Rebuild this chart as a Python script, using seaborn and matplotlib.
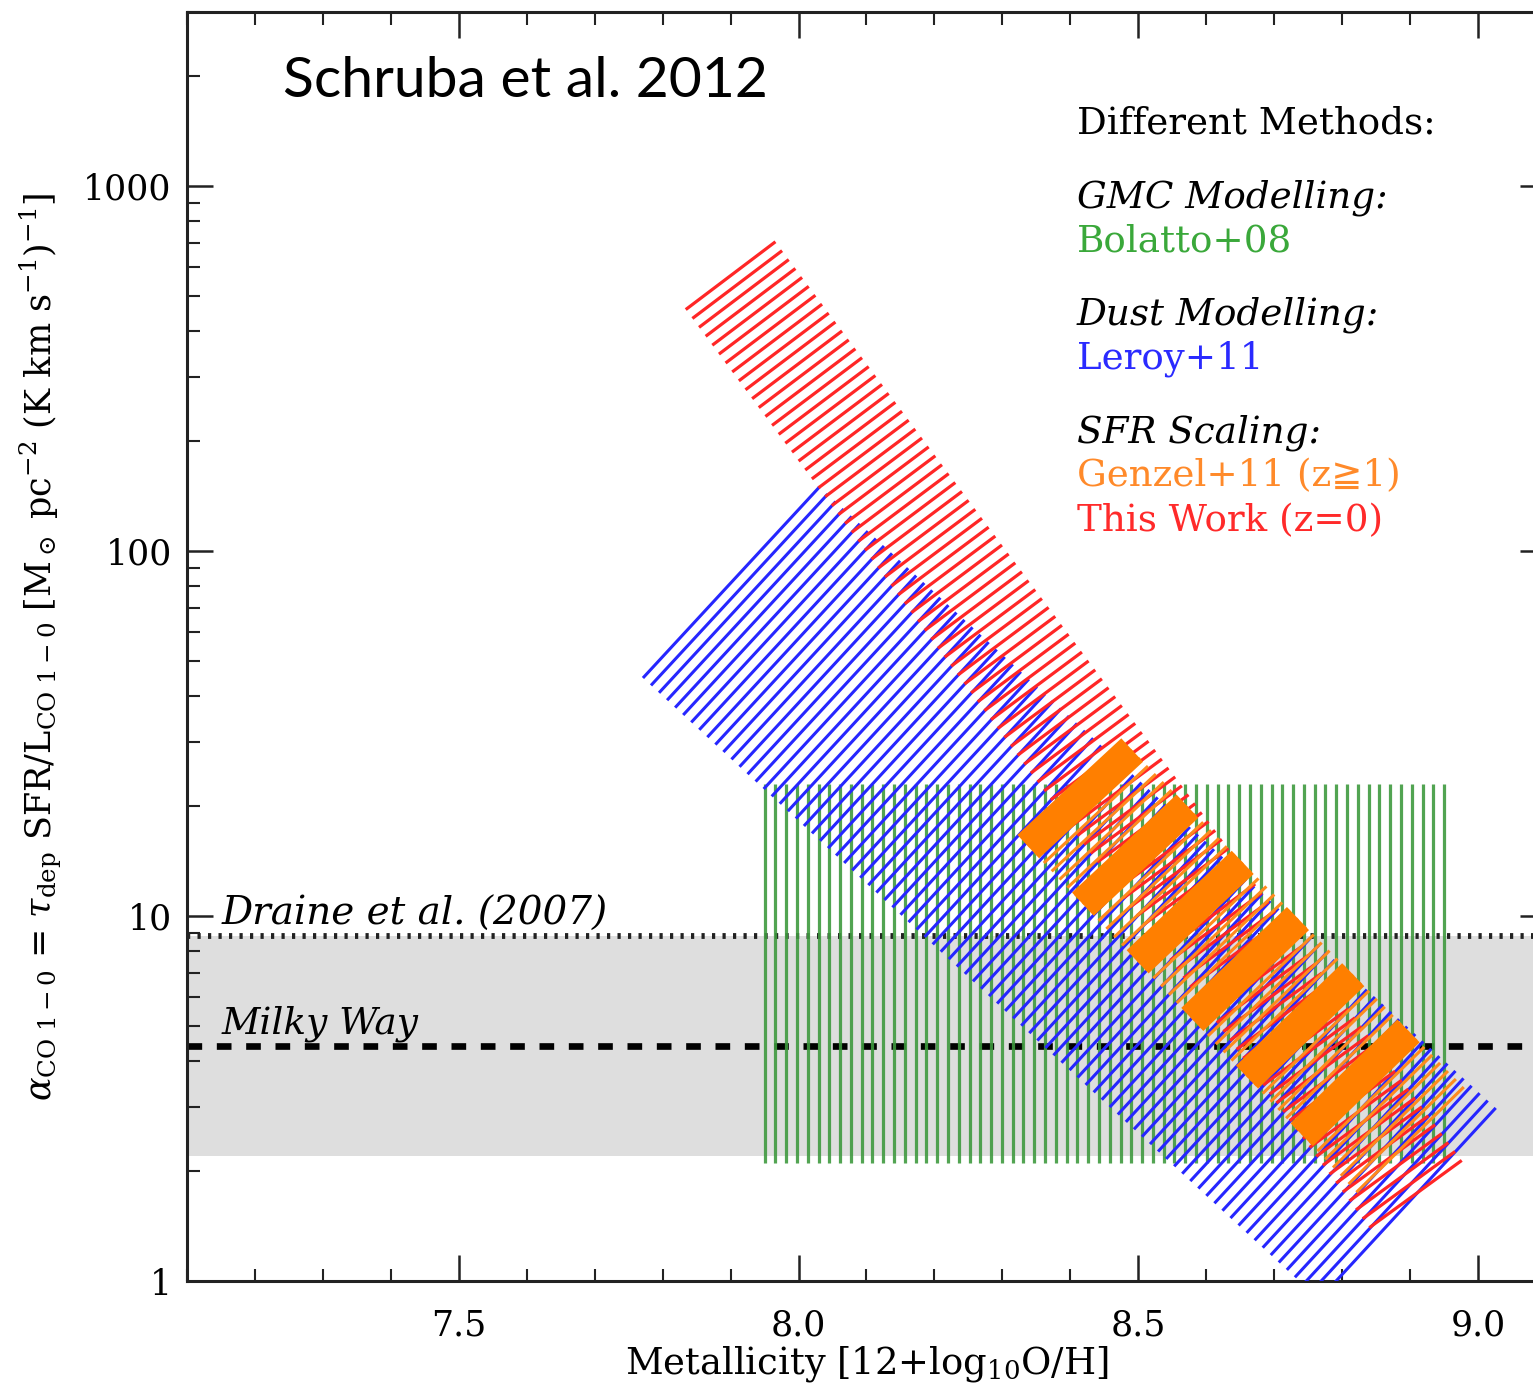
import numpy as np
import matplotlib
matplotlib.use('Agg')
import matplotlib.pyplot as plt
import seaborn as sns
from matplotlib.collections import LineCollection
from matplotlib.ticker import FixedLocator, FixedFormatter, MultipleLocator, LogLocator, NullFormatter

# ---- data ----
# each band: start segment and end segment, (metallicity, alpha_CO) pairs
# This Work (z=0)
red_z_start = [7.834, 7.966]
red_a_start = [459.0, 704.0]
red_z_end = [8.840, 8.976]
red_a_end = [1.40, 2.14]
# Leroy+11
blue_z_start = [7.771, 8.031]
blue_a_start = [44.9, 150.0]
blue_z_end = [8.766, 9.026]
blue_a_end = [0.89, 2.98]
# Genzel+11 (z>=1)
genz_z_start = [8.338, 8.491]
genz_a_start = [15.5, 28.5]
genz_z_end = [8.821, 8.979]
genz_a_end = [1.75, 3.40]
# Bolatto+08 box
bol_z = [7.95, 8.95]
bol_a = [2.1, 23.0]
# Draine et al. (2007) range and Milky Way value
draine_range = [2.2, 8.8]
alpha_mw = 4.4

x_ticks = [7.5, 8.0, 8.5, 9.0]
x_labels = ['7.5', '8.0', '8.5', '9.0']
y_ticks = [1, 10, 100, 1000]
y_labels = ['1', '10', '100', '1000']

sns.set_theme(style='ticks')
plt.rcParams['font.family'] = ['DejaVu Serif', 'DejaVu Sans']
plt.rcParams['mathtext.fontset'] = 'dejavuserif'
plt.rcParams['text.color'] = 'black'
plt.rcParams['xtick.labelcolor'] = 'black'
plt.rcParams['ytick.labelcolor'] = 'black'

fig = plt.figure(figsize=(15.33, 13.87), dpi=100)
ax = fig.add_axes([0.12198, 0.07642, 0.8865, 0.91493])


def hatch_segments(z_start, a_start, z_end, a_end, n):
    # hatch strokes between the two end segments of a band (log space)
    segs = []
    la0, la1 = np.log10(a_start), np.log10(a_end)
    for t in np.linspace(0, 1, n):
        za = z_start[0] + t * (z_end[0] - z_start[0])
        zb = z_start[1] + t * (z_end[1] - z_start[1])
        ya = la0[0] + t * (la1[0] - la0[0])
        yb = la0[1] + t * (la1[1] - la0[1])
        segs.append([(za, 10 ** ya), (zb, 10 ** yb)])
    return segs


# grey Draine range and reference lines
ax.axhspan(draine_range[0], draine_range[1], color='#dedede', lw=0, zorder=0)
ax.axhline(draine_range[1], color='#222222', lw=4.2, dashes=(0.55, 1.25), zorder=1)
ax.axhline(alpha_mw, color='black', lw=4.8, dashes=(2.2, 2.2), zorder=1)

# Bolatto+08: vertical hatching
ax.vlines(np.linspace(bol_z[0], bol_z[1], 64), bol_a[0], bol_a[1],
          color='#3f9a3f', lw=2.3, alpha=0.9, zorder=2)

# Leroy+11
ax.add_collection(LineCollection(
    hatch_segments(blue_z_start, blue_a_start, blue_z_end, blue_a_end, 85),
    colors='#2626ff', linewidths=2.2, zorder=3))

# This Work
ax.add_collection(LineCollection(
    hatch_segments(red_z_start, red_a_start, red_z_end, red_a_end, 104),
    colors='#ff2626', linewidths=2.3, zorder=4))

# Genzel+11: thin strokes and thick bars every 7th stroke
g_segs = hatch_segments(genz_z_start, genz_a_start, genz_z_end, genz_a_end, 43)
ax.add_collection(LineCollection(g_segs, colors='#ff8a1c', linewidths=2.2, zorder=5))
ax.add_collection(LineCollection(g_segs[0:36:7], colors='#ff7f00', linewidths=23,
                                 capstyle='butt', zorder=6))

# axes
ax.set_xlim(7.1, 9.1)
ax.set_yscale('log')
ax.set_ylim(1, 3000)
ax.xaxis.set_major_locator(FixedLocator(x_ticks))
ax.xaxis.set_major_formatter(FixedFormatter(x_labels))
ax.xaxis.set_minor_locator(MultipleLocator(0.1))
ax.yaxis.set_major_locator(FixedLocator(y_ticks))
ax.yaxis.set_major_formatter(FixedFormatter(y_labels))
ax.yaxis.set_minor_locator(LogLocator(base=10, subs=np.arange(2, 10)))
ax.yaxis.set_minor_formatter(NullFormatter())
ax.tick_params(which='both', direction='in', top=True, right=True, color='#222222')
ax.tick_params(which='major', length=19, width=1.8, labelsize=25)
ax.tick_params(which='minor', length=9, width=1.5)
ax.tick_params(axis='x', which='major', pad=20)
ax.tick_params(axis='y', which='major', pad=11)
for s in ax.spines.values():
    s.set_linewidth(2.2)
    s.set_color('#222222')
ax.set_facecolor('white')

ax.text(0.5004, -0.0495, r'Metallicity [12+log$_{10}$O/H]', transform=ax.transAxes,
        ha='center', va='top', fontsize=26.6)
ax.text(-0.108, 0.5,
        r'$\alpha_{\rm CO\ 1-0}$ = $\tau_{\rm dep}$ SFR/L$_{\rm CO\ 1-0}$ '
        r'[M$_\odot$ pc$^{-2}$ (K km s$^{-1}$)$^{-1}$]',
        transform=ax.transAxes, rotation=90, ha='center', va='center', fontsize=25.2)

# annotations
ax.text(0.0706, 0.933, 'Schruba et al. 2012', transform=ax.transAxes,
        fontsize=41, family='Lato', ha='left', va='baseline')
ax.text(7.151, 9.45, 'Draine et al. (2007)', style='italic', fontsize=28, va='baseline')
ax.text(7.151, 4.78, 'Milky Way', style='italic', fontsize=27, va='baseline')

legend_rows = [
    ('Different Methods:', 'black', 'normal', 0.9039),
    ('GMC Modelling:', 'black', 'italic', 0.8463),
    ('Bolatto+08', '#3aa83a', 'normal', 0.8109),
    ('Dust Modelling:', 'black', 'italic', 0.7534),
    ('Leroy+11', '#2a2aff', 'normal', 0.7187),
    ('SFR Scaling:', 'black', 'italic', 0.6604),
    ('Genzel+11 (z\u22671)', '#ff8a2a', 'normal', 0.6265),
    ('This Work (z=0)', '#ff2a2a', 'normal', 0.5910),
]
for label, col, sty, yy in legend_rows:
    ax.text(0.6549, yy, label, color=col, style=sty, fontsize=26.8,
            transform=ax.transAxes, ha='left', va='baseline')

fig.savefig('out.png', dpi=100, facecolor='white')
